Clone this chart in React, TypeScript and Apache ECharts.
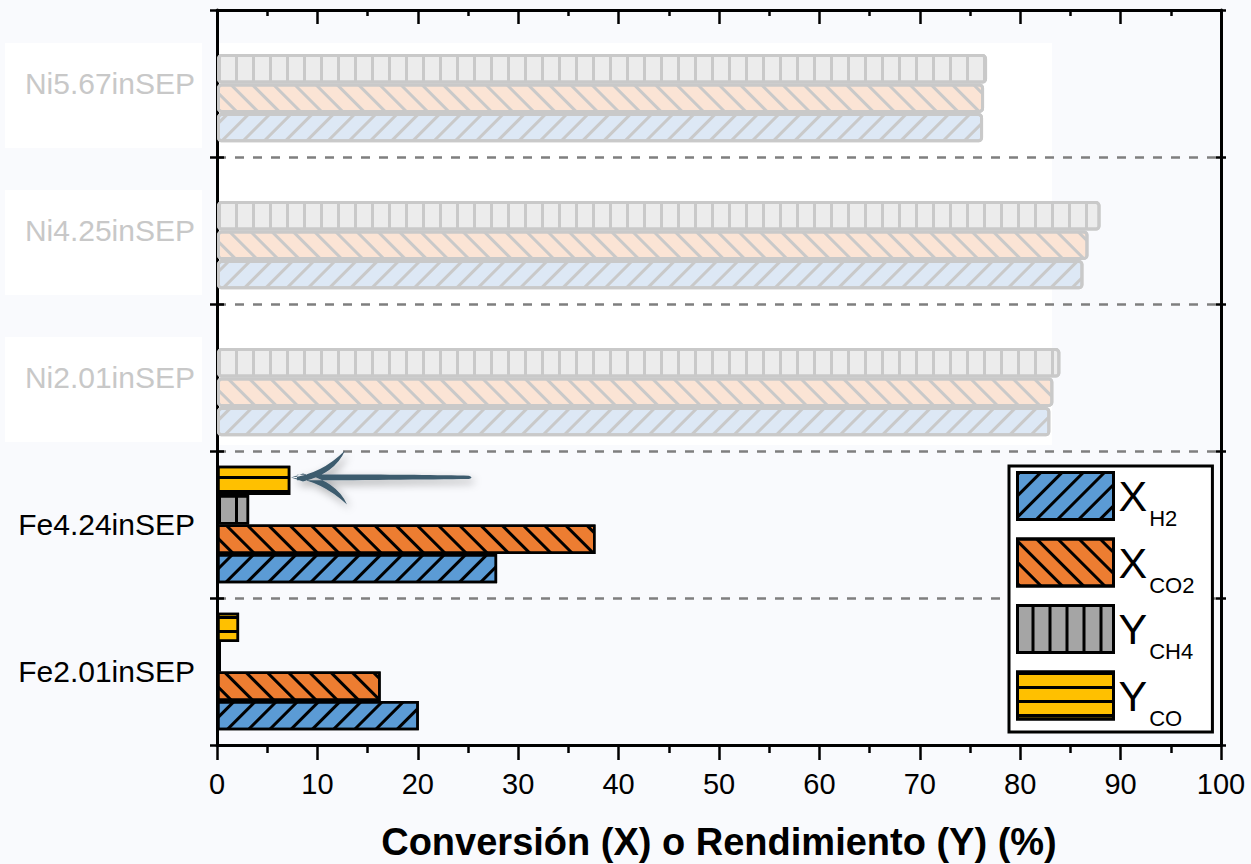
import React, { useEffect, useRef } from "react";
import * as echarts from "echarts";

const categories = ["Fe2.01inSEP", "Fe4.24inSEP", "Ni2.01inSEP", "Ni4.25inSEP", "Ni5.67inSEP"];
const fadedCategories = ["Ni2.01inSEP", "Ni4.25inSEP", "Ni5.67inSEP"];
const seriesNames = ["X_H2", "X_CO2", "Y_CH4", "Y_CO"];
const xH2 = [20.1, 27.9, 83.0, 86.3, 76.3];
const xCO2 = [16.3, 37.7, 83.3, 86.8, 76.4];
const yCH4 = [0.4, 3.2, 84.0, 88.0, 76.7];
const yCO: (number | null)[] = [2.2, 7.3, null, null, null];
const xTicks = { min: 0, max: 100, interval: 10 };

const FONT = "'Liberation Sans', Arial, sans-serif";

const arrowPath =
  "M0,0 Q30,-3 54,-27 Q44,-4 12,4 Z " +
  "M0,0 Q30,3 56,27 Q46,4 12,-4 Z " +
  "M6,-2.8 C60,-3.4 140,-2.8 178,-1.8 Q183,0 178,1.4 C140,1.8 60,2.8 6,2.8 Z";

let registered = false;
function registerArrow() {
  if (registered) return;
  echarts.graphic.registerShape("swooshArrow", echarts.graphic.extendPath(arrowPath, {}) as any);
  registered = true;
}

const seriesStyles = [
  { color: "#5b9bd5", faded: "#dde8f5", rotation: -Math.PI / 4, dashY: [3, 12] },
  { color: "#ed7d31", faded: "#fbe4d5", rotation: Math.PI / 4, dashY: [3, 12] },
  { color: "#a5a5a5", faded: "#ececec", rotation: Math.PI / 2, dashY: [3, 13.5] },
  { color: "#ffc000", faded: "#fff2cc", rotation: 0, dashY: [3, 11] },
];

function decal(color: string, s: any) {
  return {
    symbol: "rect",
    symbolSize: 1,
    dashArrayX: [1, 0],
    dashArrayY: s.dashY,
    rotation: s.rotation,
    color,
  };
}

export default function App() {
  const ref = useRef<HTMLDivElement>(null);
  useEffect(() => {
    if (!ref.current) return;
    registerArrow();
    const chart = echarts.init(ref.current, undefined, { renderer: "svg" });
    const dataSets = [xH2, xCO2, yCH4, yCO];
    const built = seriesNames.map((name, si) => {
      const st = seriesStyles[si];
      return {
        name,
        type: "bar",
        xAxisIndex: 0,
        yAxisIndex: 0,
        barGap: "0%",
        barCategoryGap: "20%",
        silent: true,
        itemStyle: {
          color: st.color,
          borderColor: "#000",
          borderWidth: 2.5,
          decal: decal("#000", st),
        },
        data: dataSets[si].map((v, i) => {
          if (v === null) return "-";
          if (fadedCategories.includes(categories[i])) {
            return {
              value: v,
              itemStyle: {
                color: st.faded,
                borderColor: "#c9c9c9",
                borderWidth: 3,
                borderRadius: 3,
                decal: decal("#c9c9c9", st),
              },
            };
          }
          return v;
        }),
      };
    });
    // first series is drawn at the top of each band, so reverse
    const series = built.slice().reverse();

    const catAxisBase = {
      type: "category",
      data: categories,
      boundaryGap: true,
    };

    const option: any = {
      animation: false,
      backgroundColor: "transparent",
      grid: { left: 217, right: 30, top: 10, bottom: 119, containLabel: false, outerBoundsMode: "none" },
      legend: {
        orient: "vertical",
        left: 1009,
        top: 466,
        selectedMode: false,
        icon: "rect",
        itemWidth: 96,
        itemHeight: 47,
        itemGap: 8,
        itemTextGap: 11,
        padding: [5, 18, 3, 7],
        backgroundColor: "#fff",
        borderColor: "#000",
        borderWidth: 3,
        itemStyle: { borderWidth: 3, borderColor: "#000" },
        formatter: (name: string) => {
          const [a, b] = name.split("_");
          return `{m|${a}}{s|${b}}`;
        },
        textStyle: {
          rich: {
            m: { fontSize: 43, fontFamily: FONT, color: "#000", lineHeight: 47 },
            s: { fontSize: 22, fontFamily: FONT, color: "#000", lineHeight: 47, verticalAlign: "bottom", padding: [0, 0, -10, 2] },
          },
        },
        data: seriesNames,
      },
      xAxis: [
        {
          type: "value",
          position: "bottom",
          ...xTicks,
          axisLine: { show: true, onZero: false, lineStyle: { color: "#000", width: 3 } },
          axisTick: { show: true, length: 15, lineStyle: { color: "#000", width: 2.5 } },
          minorTick: { show: true, splitNumber: 2, length: 8, lineStyle: { color: "#000", width: 2.5 } },
          splitLine: { show: false },
          axisLabel: { fontSize: 29, fontFamily: FONT, color: "#000", margin: 24 },
          name: "Conversión (X) o Rendimiento (Y) (%)",
          nameLocation: "middle",
          nameGap: 78,
          nameTextStyle: { fontSize: 38, fontWeight: "bold", fontFamily: FONT, color: "#000" },
        },
        {
          type: "value",
          position: "top",
          ...xTicks,
          axisLine: { show: true, onZero: false, lineStyle: { color: "#000", width: 3 } },
          axisTick: { show: true, inside: true, length: 14, lineStyle: { color: "#000", width: 2.5 } },
          minorTick: { show: true, splitNumber: 2, length: 6, lineStyle: { color: "#000", width: 2.5 } },
          splitLine: { show: false },
          axisLabel: { show: false },
        },
      ],
      yAxis: [
        {
          ...catAxisBase,
          position: "left",
          axisLine: { show: true, onZero: false, lineStyle: { color: "#000", width: 3 } },
          axisTick: { show: true, length: 7, lineStyle: { color: "#000", width: 2.5 } },
          axisLabel: {
            fontSize: 30,
            fontFamily: FONT,
            margin: 22,
            color: (value: string) => (fadedCategories.includes(value) ? "#c8c8c8" : "#000"),
          },
          splitLine: { show: true, lineStyle: { color: "#7f7f7f", width: 2.5, type: [9, 9] } },
        },
        {
          ...catAxisBase,
          position: "left",
          axisLine: { show: false, onZero: false },
          axisTick: { show: true, inside: true, length: 7, lineStyle: { color: "#000", width: 2.5 } },
          axisLabel: { show: false },
          splitLine: { show: false },
        },
        {
          ...catAxisBase,
          position: "right",
          axisLine: { show: true, onZero: false, lineStyle: { color: "#000", width: 3 } },
          axisTick: { show: true, length: 5, lineStyle: { color: "#000", width: 2.5 } },
          axisLabel: { show: false },
          splitLine: { show: false },
        },
        {
          ...catAxisBase,
          position: "right",
          axisLine: { show: false, onZero: false },
          axisTick: { show: true, inside: true, length: 5, lineStyle: { color: "#000", width: 2.5 } },
          axisLabel: { show: false },
          splitLine: { show: false },
        },
      ],
      graphic: {
        elements: [
          { type: "rect", z: -1, silent: true, shape: { x: 218, y: 43, width: 834, height: 402 }, style: { fill: "#fff" } },
          { type: "rect", z: -1, silent: true, shape: { x: 5, y: 43, width: 197, height: 105 }, style: { fill: "#fff" } },
          { type: "rect", z: -1, silent: true, shape: { x: 5, y: 190, width: 197, height: 105 }, style: { fill: "#fff" } },
          { type: "rect", z: -1, silent: true, shape: { x: 5, y: 337, width: 197, height: 105 }, style: { fill: "#fff" } },
          {
            type: "swooshArrow",
            x: 291,
            y: 477.5,
            z: 100,
            silent: true,
            style: {
              fill: "#3e5b6e",
              shadowBlur: 8,
              shadowColor: "rgba(0,0,0,0.35)",
              shadowOffsetX: 3,
              shadowOffsetY: 4,
            },
          },
        ],
      },
      series,
    };
    chart.setOption(option);
    return () => chart.dispose();
  }, []);
  return (
    <div
      ref={ref}
      style={{ position: "fixed", left: 0, top: 0, width: 1251, height: 864, background: "#f9fafd" }}
    />
  );
}
